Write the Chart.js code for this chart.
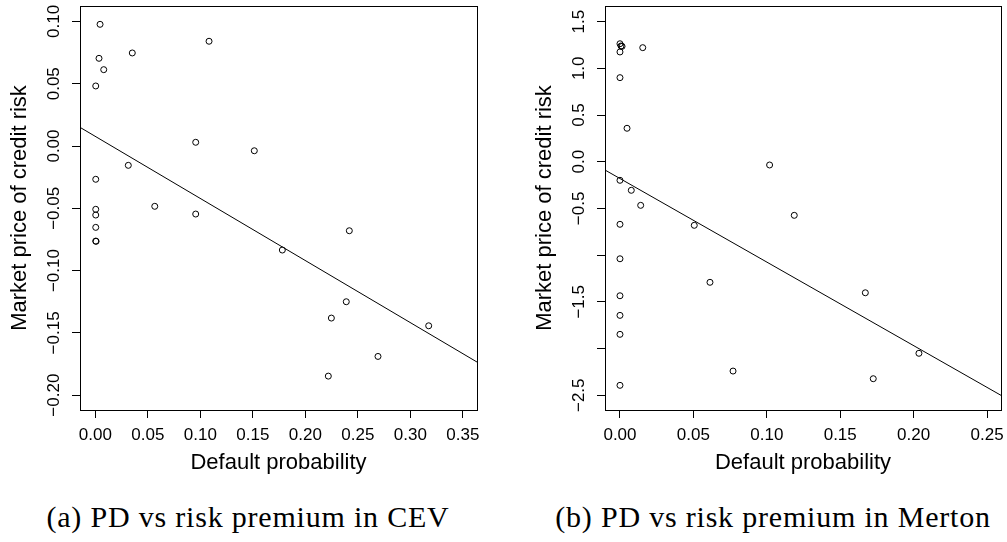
<!DOCTYPE html>
<html>
<head>
<meta charset="utf-8">
<script src="https://cdn.jsdelivr.net/npm/chart.js@4.4.0/dist/chart.umd.min.js"></script>
<style>
  html, body { margin: 0; padding: 0; background: #fff; }
  body { width: 1007px; height: 542px; position: relative; overflow: hidden; }
  canvas { position: absolute; top: 0; }
  #cev { left: 0; }
  #merton { left: 503px; }
  .caption {
    position: absolute; top: 502px; line-height: 30px;
    font-family: "Liberation Serif", "Times New Roman", serif; font-size: 30px;
    letter-spacing: 0.8px; white-space: nowrap; color: #000;
    transform: translateX(-50%);
  }
</style>
</head>
<body>
<canvas id="cev" width="503" height="480"></canvas>
<canvas id="merton" width="504" height="480"></canvas>
<div class="caption" style="left:248px">(a) PD vs risk premium in CEV</div>
<div class="caption" style="left:773px">(b) PD vs risk premium in Merton</div>
<script>
// (a) CEV: default probability vs market price of credit risk
const cevPD = [0.0045, 0.1083, 0.0035, 0.0352, 0.0080, 0.0004, 0.0956, 0.1514,
  0.0314, 0.0004, 0.0004, 0.0004, 0.0566, 0.0956, 0.0004, 0.0004, 0.0007,
  0.2419, 0.1781, 0.2390, 0.2248, 0.3175, 0.2692, 0.2219];
const cevPremium = [0.0977, 0.0841, 0.0704, 0.0747, 0.0613, 0.0482, 0.0030, -0.0038,
  -0.0155, -0.0267, -0.0508, -0.0554, -0.0484, -0.0546, -0.0653, -0.0763, -0.0765,
  -0.0680, -0.0835, -0.1250, -0.1381, -0.1443, -0.1689, -0.1847];
// fitted line, ends at the plot edges
const cevLineX = [-0.0146, 0.3635];
const cevLineY = [0.0150, -0.1734];
const cevXTicks = [0, 0.05, 0.10, 0.15, 0.20, 0.25, 0.30, 0.35];
const cevXLabels = ['0.00', '0.05', '0.10', '0.15', '0.20', '0.25', '0.30', '0.35'];
const cevYTicks = [-0.20, -0.15, -0.10, -0.05, 0, 0.05, 0.10];
const cevYLabels = ['\u22120.20', '\u22120.15', '\u22120.10', '\u22120.05', '0.00', '0.05', '0.10'];

// (b) Merton
const mertonPD = [0.0000, 0.0007, 0.0014, 0.0000, 0.0155, 0.0000, 0.0048, 0.1019,
  0.0000, 0.0077, 0.0141, 0.1187, 0.0000, 0.0506, 0.0000, 0.0613, 0.0000,
  0.1671, 0.0000, 0.0000, 0.2036, 0.0770, 0.1725, 0.0000];
const mertonPremium = [1.263, 1.239, 1.235, 1.175, 1.221, 0.900, 0.358, -0.035,
  -0.199, -0.306, -0.467, -0.574, -0.670, -0.681, -1.039, -1.291, -1.435,
  -1.403, -1.645, -1.848, -2.051, -2.241, -2.323, -2.394];
const mertonLineX = [-0.0102, 0.2595];
const mertonLineY = [-0.089, -2.501];
const mertonXTicks = [0, 0.05, 0.10, 0.15, 0.20, 0.25];
const mertonXLabels = ['0.00', '0.05', '0.10', '0.15', '0.20', '0.25'];
const mertonYTicks = [-2.5, -2.0, -1.5, -1.0, -0.5, 0, 0.5, 1.0, 1.5];
const mertonYLabels = ['\u22122.5', '', '\u22121.5', '', '\u22120.5', '0.0', '0.5', '1.0', '1.5'];

const SANS = '"Liberation Sans", Arial, Helvetica, sans-serif';

// R-style box, tick labels parallel to the axis, axis titles
const rBox = {
  id: 'rBox',
  afterDraw(chart, args, o) {
    const ctx = chart.ctx, a = chart.chartArea;
    const x = chart.scales.x, y = chart.scales.y;
    ctx.save();
    ctx.strokeStyle = '#000';
    ctx.lineWidth = 1;
    ctx.strokeRect(Math.round(a.left) + 0.5, Math.round(a.top) + 0.5,
      Math.round(a.right - a.left), Math.round(a.bottom - a.top));
    ctx.fillStyle = '#000';
    ctx.textAlign = 'center';
    ctx.textBaseline = 'alphabetic';
    ctx.font = '17px ' + SANS;
    o.xTicks.forEach((v, i) => ctx.fillText(o.xLabels[i], x.getPixelForValue(v), a.bottom + 30));
    o.yTicks.forEach((v, i) => {
      if (!o.yLabels[i]) return;
      ctx.save();
      ctx.translate(a.left - 21, y.getPixelForValue(v));
      ctx.rotate(-Math.PI / 2);
      ctx.fillText(o.yLabels[i], 0, 0);
      ctx.restore();
    });
    ctx.font = '22px ' + SANS;
    ctx.fillText(o.xTitle, (a.left + a.right) / 2, a.bottom + 59);
    ctx.translate(a.left - 54, (a.top + a.bottom) / 2);
    ctx.rotate(-Math.PI / 2);
    ctx.fillText(o.yTitle, 0, 0);
    ctx.restore();
  }
};

function makePlot(id, pd, prem, lineX, lineY, xr, yr, xTicks, xLabels, yTicks, yLabels, leftW, rightPad) {
  const pts = pd.map((v, i) => ({ x: v, y: prem[i] }));
  const line = lineX.map((v, i) => ({ x: v, y: lineY[i] }));
  const grid = { drawOnChartArea: false, drawTicks: true, tickLength: 8, color: '#000', lineWidth: 1 };
  return new Chart(document.getElementById(id), {
    type: 'scatter',
    data: {
      datasets: [{
        data: pts,
        pointStyle: 'circle',
        pointRadius: 3,
        pointHoverRadius: 3,
        borderWidth: 1,
        borderColor: '#000',
        backgroundColor: 'rgba(0,0,0,0)'
      }, {
        type: 'line',
        data: line,
        borderColor: '#000',
        borderWidth: 1,
        pointRadius: 0,
        fill: false
      }]
    },
    options: {
      responsive: false,
      animation: false,
      events: [],
      layout: { padding: { top: 6, right: rightPad, left: 0, bottom: 0 } },
      plugins: {
        legend: { display: false },
        tooltip: { enabled: false },
        rBox: {
          xTicks: xTicks, xLabels: xLabels, yTicks: yTicks, yLabels: yLabels,
          xTitle: 'Default probability', yTitle: 'Market price of credit risk'
        }
      },
      scales: {
        x: {
          type: 'linear', min: xr[0], max: xr[1],
          grid: grid, border: { display: false }, ticks: { display: false },
          afterBuildTicks: s => { s.ticks = xTicks.map(v => ({ value: v })); },
          afterFit: s => { s.height = 70; }
        },
        y: {
          type: 'linear', min: yr[0], max: yr[1],
          grid: grid, border: { display: false }, ticks: { display: false },
          afterBuildTicks: s => { s.ticks = yTicks.map(v => ({ value: v })); },
          afterFit: s => { s.width = leftW; }
        }
      }
    },
    plugins: [rBox]
  });
}

makePlot('cev', cevPD, cevPremium, cevLineX, cevLineY,
  [-0.0146, 0.3635], [-0.2119, 0.1124],
  cevXTicks, cevXLabels, cevYTicks, cevYLabels, 80, 26);
makePlot('merton', mertonPD, mertonPremium, mertonLineX, mertonLineY,
  [-0.0102, 0.2595], [-2.658, 1.667],
  mertonXTicks, mertonXLabels, mertonYTicks, mertonYLabels, 102, 6);
</script>
</body>
</html>
